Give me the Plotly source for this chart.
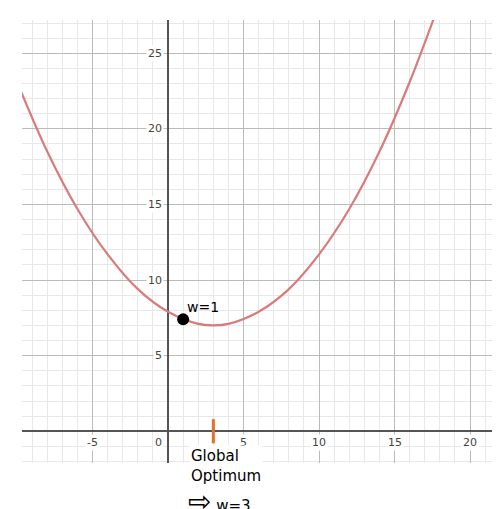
import plotly.graph_objects as go

# points
curve_x = [-10, -8, -6, -4, -2, 0, 2, 3, 4, 6, 8, 10, 12, 14, 16, 18, 19]
curve_y = [23.1, 18.5, 14.7, 11.7, 9.4, 7.9, 7.1, 7.0, 7.1, 7.9, 9.4, 11.7, 14.7, 18.5, 23.1, 28.4, 31.2]

point_x = [1]
point_y = [7.4]
point_label = "w=1"

x_ticks = [-5, 5, 10, 15, 20]
y_ticks = [5, 10, 15, 20, 25]
optimum_x = 3

fig = go.Figure()
fig.add_trace(go.Scatter(x=curve_x, y=curve_y, mode="lines", line_shape="spline",
                         line=dict(color="#d97b7b", width=2.2), hoverinfo="skip"))
fig.add_trace(go.Scatter(x=point_x, y=point_y, mode="markers",
                         marker=dict(color="black", size=12)))
fig.add_trace(go.Scatter(x=[optimum_x, optimum_x], y=[-0.8, 0.8], mode="lines",
                         line=dict(color="#e0702a", width=3)))

ann = []
for t in x_ticks:
    ann.append(dict(x=t, y=0, yshift=-11, text=str(t), showarrow=False,
                    font=dict(size=11, color="#444"), bgcolor="white"))
for t in y_ticks:
    ann.append(dict(x=0, y=t, xshift=-4, xanchor="right", text=str(t), showarrow=False,
                    font=dict(size=11, color="#444"), bgcolor="white"))
ann.append(dict(x=0, y=0, xshift=-4, yshift=-11, xanchor="right", text="0", showarrow=False,
                font=dict(size=11, color="#444"), bgcolor="white"))
ann.append(dict(x=point_x[0], y=point_y[0], xshift=2, yshift=12, xanchor="left",
                text=point_label, showarrow=False, font=dict(size=14, color="black")))
ann.append(dict(x=1.4, y=0, xanchor="left", yanchor="top", yshift=-14,
                text="Global<br>Optimum", showarrow=False, align="left",
                font=dict(size=15, color="black"), bgcolor="white"))
ann.append(dict(x=1.2, y=0, xanchor="left", yanchor="top", yshift=-52,
                text="<span style='font-size:28px'>⇨</span> w=3", showarrow=False,
                align="left", font=dict(size=15, color="black")))

fig.update_layout(
    width=500, height=509, showlegend=False,
    plot_bgcolor="white", paper_bgcolor="white",
    margin=dict(l=14, r=13, t=12, b=54, autoexpand=False),
    annotations=ann,
    font=dict(family="DejaVu Sans"),
)
fig.update_xaxes(range=[-9.67, 21.65], dtick=5, showticklabels=False, automargin=False,
                 showgrid=True, gridcolor="#bbbbbb", gridwidth=1,
                 minor=dict(dtick=1, showgrid=True, gridcolor="#e8e8e8"),
                 zeroline=True, zerolinecolor="#555", zerolinewidth=2)
fig.update_yaxes(range=[-2.1, 27.2], dtick=5, showticklabels=False, automargin=False,
                 showgrid=True, gridcolor="#bbbbbb", gridwidth=1,
                 minor=dict(dtick=1, showgrid=True, gridcolor="#e8e8e8"),
                 zeroline=True, zerolinecolor="#555", zerolinewidth=2)

fig.write_html("out.html")
